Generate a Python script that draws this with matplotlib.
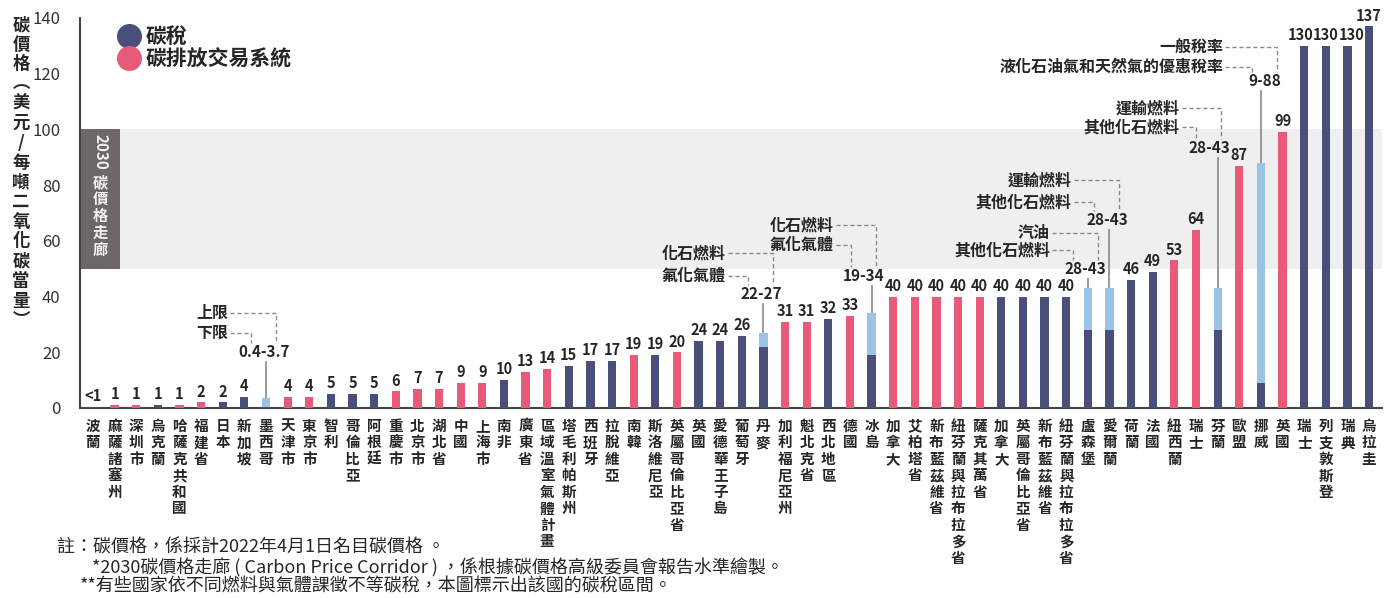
import matplotlib
matplotlib.use('Agg')
import matplotlib.pyplot as plt
from matplotlib.lines import Line2D

plt.rcParams['font.family'] = ['Noto Sans CJK TC', 'DejaVu Sans']

# 各地區碳價格（美元/每噸二氧化碳當量），區間者以下限/上限表示
regions = ['波蘭', '麻薩諸塞州', '深圳市', '烏克蘭', '哈薩克共和國', '福建省', '日本', '新加坡',
           '墨西哥', '天津市', '東京市', '智利', '哥倫比亞', '阿根廷', '重慶市', '北京市',
           '湖北省', '中國', '上海市', '南非', '廣東省', '區域溫室氣體計畫', '塔毛利帕斯州',
           '西班牙', '拉脫維亞', '南韓', '斯洛維尼亞', '英屬哥倫比亞省', '英國', '愛德華王子島',
           '葡萄牙', '丹麥', '加利福尼亞州', '魁北克省', '西北地區', '德國', '冰島', '加拿大',
           '艾柏塔省', '新布藍茲維省', '紐芬蘭與拉布拉多省', '薩克其萬省', '加拿大',
           '英屬哥倫比亞省', '新布藍茲維省', '紐芬蘭與拉布拉多省', '盧森堡', '愛爾蘭', '荷蘭',
           '法國', '紐西蘭', '瑞士', '芬蘭', '歐盟', '挪威', '英國', '瑞士', '列支敦斯登',
           '瑞典', '烏拉圭']
scheme = ['tax', 'ets', 'ets', 'tax', 'ets', 'ets', 'tax', 'tax',
          'tax', 'ets', 'ets', 'tax', 'tax', 'tax', 'ets', 'ets',
          'ets', 'ets', 'ets', 'tax', 'ets', 'ets', 'tax',
          'tax', 'tax', 'ets', 'tax', 'ets', 'tax', 'tax',
          'tax', 'tax', 'ets', 'ets', 'tax', 'ets', 'tax', 'ets',
          'ets', 'ets', 'ets', 'ets', 'tax',
          'tax', 'tax', 'tax', 'tax', 'tax', 'tax',
          'tax', 'ets', 'ets', 'tax', 'ets', 'tax', 'ets', 'tax', 'tax',
          'tax', 'tax']
price_low = [0.3, 1, 1, 1, 1, 2, 2, 4,
             0.4, 4, 4, 5, 5, 5, 6, 7,
             7, 9, 9, 10, 13, 14, 15,
             17, 17, 19, 19, 20, 24, 24,
             26, 22, 31, 31, 32, 33, 19, 40,
             40, 40, 40, 40, 40,
             40, 40, 40, 28, 28, 46,
             49, 53, 64, 28, 87, 9, 99, 130, 130,
             130, 137]
price_high = [0.3, 1, 1, 1, 1, 2, 2, 4,
              3.7, 4, 4, 5, 5, 5, 6, 7,
              7, 9, 9, 10, 13, 14, 15,
              17, 17, 19, 19, 20, 24, 24,
              26, 27, 31, 31, 32, 33, 34, 40,
              40, 40, 40, 40, 40,
              40, 40, 40, 43, 43, 46,
              49, 53, 64, 43, 87, 88, 99, 130, 130,
              130, 137]

# 區間標籤的說明文字：(長條序號, 上限說明, 下限說明)
range_notes = [
    (8, '上限', '下限'),
    (31, '化石燃料', '氟化氣體'),
    (36, '化石燃料', '氟化氣體'),
    (46, '汽油', '其他化石燃料'),
    (47, '運輸燃料', '其他化石燃料'),
    (52, '運輸燃料', '其他化石燃料'),
    (54, '一般稅率', '液化石油氣和天然氣的優惠稅率'),
]
# 標籤擺放：(區間數字高度, 上限說明高度, 下限說明高度, 區間數字水平偏移)
note_layout = [(20, 34, 27, 0), (41, 55.6, 47.4, 0), (47.4, 65.7, 58.5, -0.25),
               (50, 62.8, 56.7, 0), (67.5, 81.8, 73.9, 0), (93.3, 107.7, 100.9, -0.3),
               (117.4, 129.6, 122.4, 0.3)]
# 三個並列 130 的數字稍微錯開
label_nudge = {56: -0.18, 58: 0.18}

footnotes = ['註：碳價格，係採計2022年4月1日名目碳價格 。',
             '*2030碳價格走廊 ( Carbon Price Corridor ) ，係根據碳價格高級委員會報告水準繪製。',
             '**有些國家依不同燃料與氣體課徵不等碳稅，本圖標示出該國的碳稅區間。']

TAX = '#4a4f7a'
ETS = '#e85a79'
RANGE = '#9cc3e4'
INK = '#262626'

W, H = 1397, 598
fig = plt.figure(figsize=(W / 100, H / 100), dpi=100)
ax = fig.add_axes([80 / W, 1 - 408 / H, (1382 - 80) / W, (408 - 18) / H])

# 2030 碳價格走廊
ax.axhspan(50, 100, color='#efefef', lw=0, zorder=0)
ax.fill_between([-0.6, 1.25], 50, 100, color='#6d6767', lw=0, zorder=1)
ax.text(0.33, 98.5, '2030', rotation=-90, ha='center', va='top', color='#f0f0f0',
        fontsize=11, weight='bold', zorder=2)
ax.text(0.33, 84, '\n'.join('碳價格走廊'), ha='center', va='top', color='#f0f0f0',
        fontsize=11, weight='bold', linespacing=1.08, zorder=2)

x = list(range(len(regions)))
base_col = [TAX if s == 'tax' else ETS for s in scheme]
width = 0.38
ax.bar(x, price_low, width=width, color=base_col, zorder=3)
ax.bar(x, [h - l for l, h in zip(price_low, price_high)], bottom=price_low,
       width=width, color=RANGE, zorder=3)

noted = {n[0] for n in range_notes}
for i, (lo, hi) in enumerate(zip(price_low, price_high)):
    if i in noted:
        continue
    txt = '<1' if hi < 1 else f'{hi:g}'
    ax.annotate(txt, (i + label_nudge.get(i, 0), hi), xytext=(0, 2),
                textcoords='offset points', ha='center', va='bottom', fontsize=10.5,
                weight='bold', color=INK, zorder=4)

dash = dict(color='#8a8a8a', lw=1, ls=(0, (3, 2)), zorder=2)
for (i, up_txt, lo_txt), (ly, uy, dy, shift) in zip(range_notes, note_layout):
    lo, hi = price_low[i], price_high[i]
    cx = i + shift
    ax.text(cx - 0.1, ly, f'{lo:g}-{hi:g}', ha='center', va='center', fontsize=11,
            weight='bold', color=INK, zorder=4)
    ax.plot([i, i], [ly - 3.6, hi], color='#8a8a8a', lw=1.2, zorder=2)
    tx = i - 1.75
    ax.text(tx, uy, up_txt, ha='right', va='center', fontsize=11.5, weight='bold',
            color=INK, zorder=4)
    ax.text(tx, dy, lo_txt, ha='right', va='center', fontsize=11.5, weight='bold',
            color=INK, zorder=4)
    ux, dx = cx + 0.45, cx - 0.7
    ax.plot([tx + 0.1, ux, ux], [uy, uy, ly + 3.3], **dash)
    ax.plot([tx + 0.1, dx, dx], [dy, dy, ly + 3.3], **dash)

ax.set_xlim(-0.6, 59.6)
ax.set_ylim(0, 140)
ax.set_yticks(range(0, 141, 20))
ax.set_xticks(x)
ax.set_xticklabels(['\n'.join(r) for r in regions], fontsize=10.5, color=INK,
                   weight='bold', linespacing=1.04)
ax.tick_params(axis='y', length=0, pad=14, labelsize=12, labelcolor='#333333')
ax.tick_params(axis='x', length=0, pad=7)
for side in ('top', 'right'):
    ax.spines[side].set_visible(False)
for side in ('left', 'bottom'):
    ax.spines[side].set_color('#444444')
    ax.spines[side].set_linewidth(1.5)

handles = [Line2D([], [], marker='o', ls='', ms=17, color=TAX, label='碳稅'),
           Line2D([], [], marker='o', ls='', ms=17, color=ETS, label='碳排放交易系統')]
leg = ax.legend(handles=handles, loc='upper left', bbox_to_anchor=(0.022, 1.0),
                frameon=False, fontsize=15, handletextpad=0.15, labelspacing=0.05,
                borderaxespad=0, handlelength=1.2)
for t in leg.get_texts():
    t.set_weight('bold')
    t.set_color(INK)

ylabel = '碳價格︵美元/每噸二氧化碳當量︶'
fig.text(21 / W, 1 - 16 / H, '\n'.join(ylabel), ha='center', va='top', fontsize=12.5,
         weight='bold', linespacing=1.12, color=INK)

for k, (line, px) in enumerate(zip(footnotes, [57, 92, 80])):
    fig.text(px / W, 1 - (548 + 19.5 * k) / H, line, ha='left', va='center',
             fontsize=13, color=INK)

fig.savefig('out.png', dpi=100)
